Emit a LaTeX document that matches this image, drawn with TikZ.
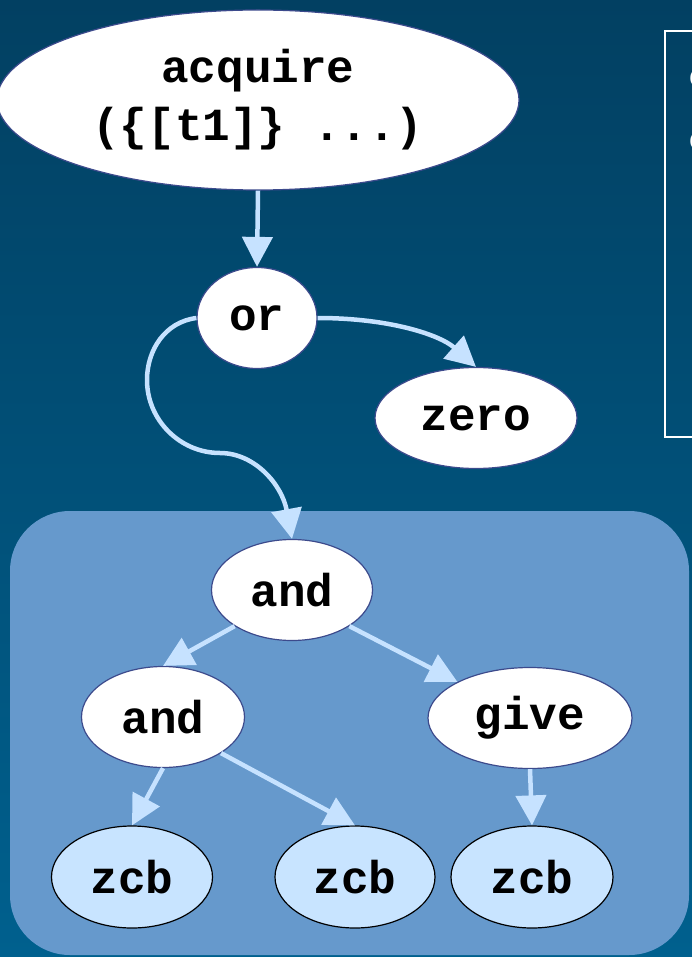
\documentclass[tikz,border=0pt]{standalone}
\usepackage{fontspec}
\setmainfont{Liberation Sans}
\newfontfamily\codefont{Liberation Mono}
\usetikzlibrary{shapes.geometric,arrows.meta}
\definecolor{bgtop}{RGB}{2,64,98}
\definecolor{bgbot}{RGB}{0,96,142}
\definecolor{panel}{RGB}{102,153,204}
\definecolor{edgeblue}{RGB}{198,226,255}
\definecolor{nodeline}{RGB}{60,74,140}
\definecolor{leaffill}{RGB}{200,228,255}
\tikzset{
  opnode/.style={ellipse, draw=nodeline, line width=1.2pt, fill=white, inner sep=0pt,
    font=\codefont\bfseries\fontsize{46}{54}\selectfont, align=center},
  leafnode/.style={opnode, draw=black, fill=leaffill},
  arr/.style={draw=edgeblue, line width=4.5pt, -{Triangle[length=30pt,width=30pt]}},
}
\begin{document}
\begin{tikzpicture}[x=1pt,y=-1pt]
\useasboundingbox (0,0) rectangle (692,957);
\shade[top color=bgtop, bottom color=bgbot] (0,0) rectangle (692,957);
\fill[panel, rounded corners=60pt] (10,511) rectangle (689,955);
% side box
\draw[white, line width=2pt] (665,31) rectangle (720,437);
\node[anchor=west, inner sep=0pt, text=white, font=\fontsize{26}{30}\selectfont] (c1) at (689,79) {C};
\node[anchor=west, inner sep=0pt, text=white, font=\fontsize{26}{30}\selectfont] (c2) at (689,142) {C};
% nodes
\node[opnode, minimum width=522pt, minimum height=180pt] (acq) at (258,100) {acquire\\[4pt](\{[t1]\} ...)};
\node[opnode, minimum width=120pt, minimum height=101pt] (or) at (257,318) {or};
\node[opnode, minimum width=202pt, minimum height=101pt] (zero) at (476,418) {zero};
\node[opnode, minimum width=161pt, minimum height=101pt] (and1) at (292,590) {and};
\node[opnode, minimum width=163pt, minimum height=101pt] (and2) at (163,717) {and};
\node[opnode, minimum width=204pt, minimum height=101pt] (give) at (530,718) {give};
\node[leafnode, minimum width=161pt, minimum height=102pt] (z1) at (132,877) {zcb};
\node[leafnode, minimum width=160pt, minimum height=102pt] (z2) at (355,877) {zcb};
\node[leafnode, minimum width=162pt, minimum height=102pt] (z3) at (532,877) {zcb};
% edges
\draw[arr] (acq.south) -- (or.north);
\draw[arr] (or.east) .. controls (390,318) and (440,335) .. (zero.north);
\draw[arr] (or.west) .. controls (165,322) and (147,350) .. (147,380)
  .. controls (147,420) and (180,453) .. (220,453)
  .. controls (255,453) and (282,485) .. (and1.north);
\draw[arr] (and1.south west) -- (and2.north);
\draw[arr] (and1.south east) -- (give.north west);
\draw[arr] (and2.south) -- (z1.north);
\draw[arr] (and2.south east) -- (z2.north);
\draw[arr] (give.south) -- (z3.north);
\end{tikzpicture}
\end{document}
